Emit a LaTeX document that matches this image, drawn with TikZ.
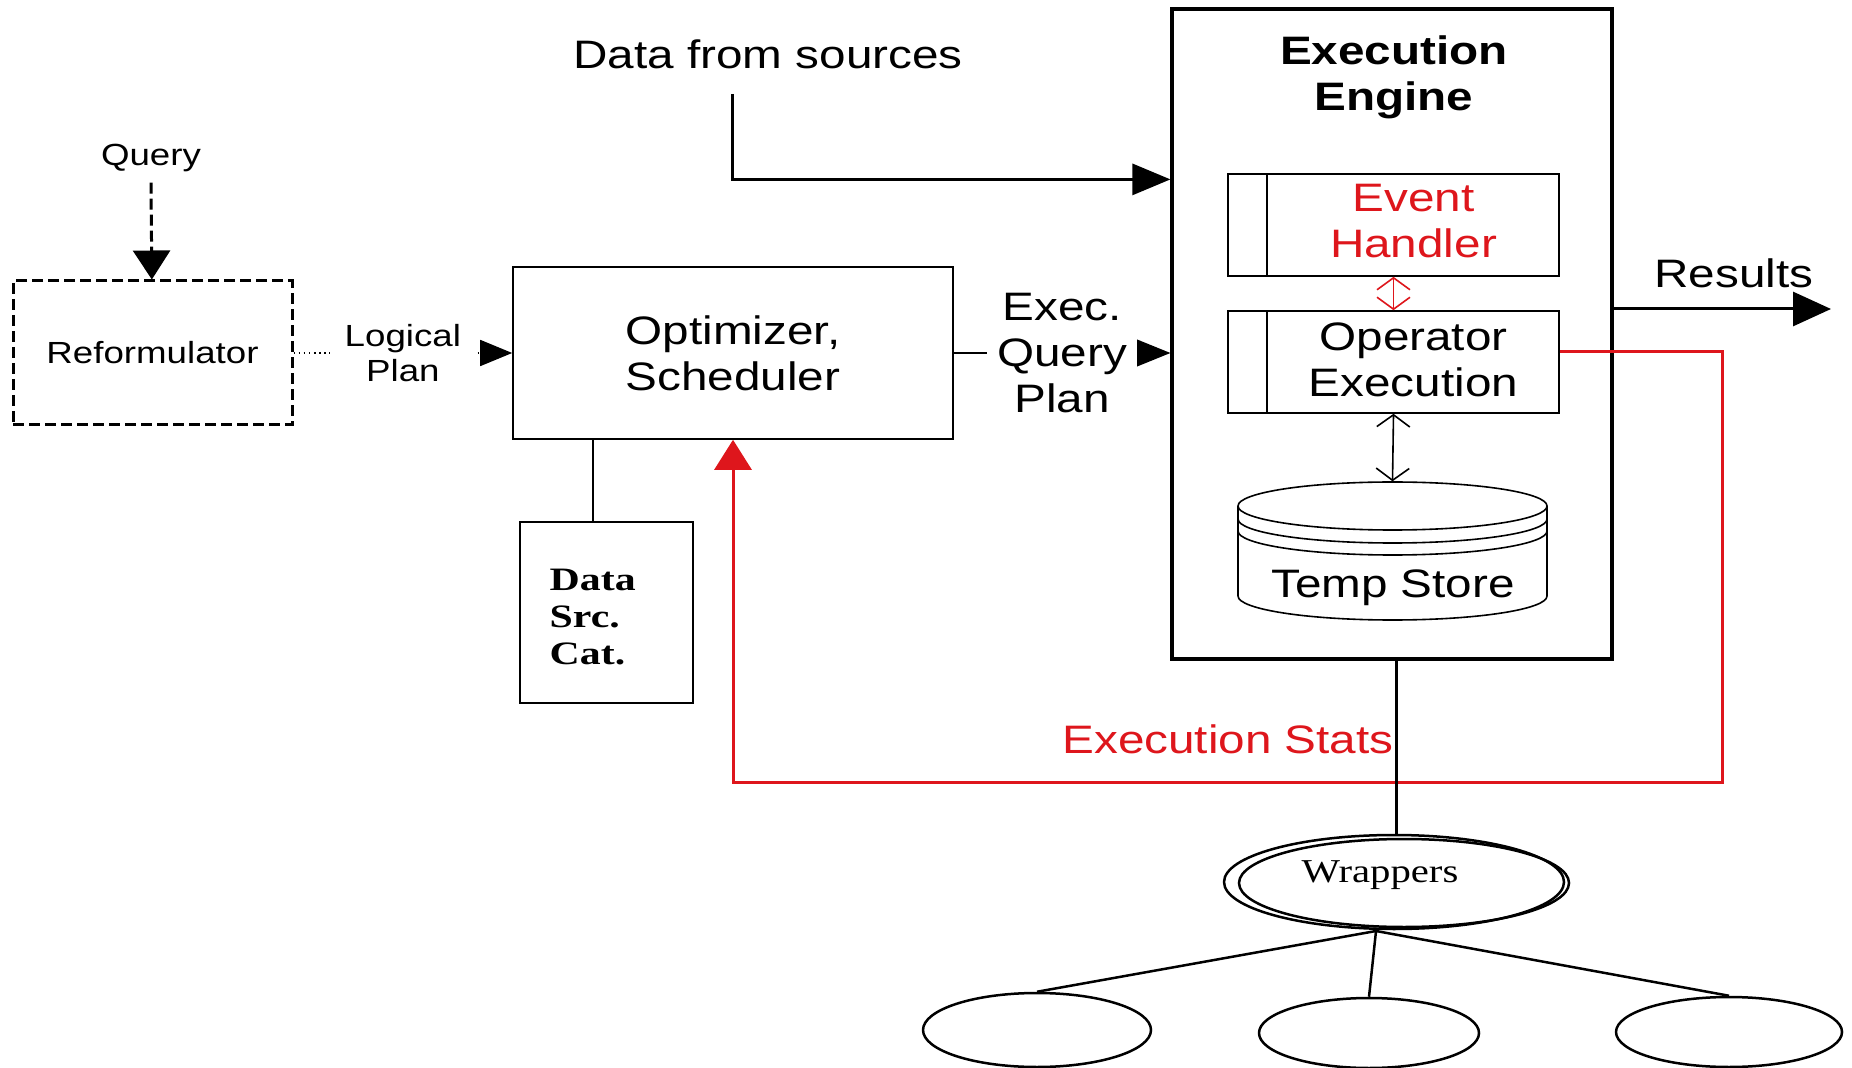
\documentclass[tikz,border=0pt]{standalone}
\usepackage{fontspec}
\setmainfont[FakeStretch=1.2]{Liberation Sans}
\newfontfamily\wserif[FakeStretch=1.22]{Liberation Serif}
\newfontfamily\dscfont[FakeStretch=1.28]{Liberation Serif}
\usetikzlibrary{arrows.meta,shapes.geometric,calc}
\definecolor{myred}{RGB}{222,22,28}
\begin{document}
\begin{tikzpicture}[x=0.1mm,y=-0.1mm,
  bigtxt/.style={font=\fontsize{11.3pt}{13pt}\selectfont, align=center, inner sep=0},
  smalltxt/.style={font=\fontsize{8.7pt}{9.8pt}\selectfont, align=center, inner sep=0},
  thinbox/.style={draw, line width=0.16mm, inner sep=0},
  thickln/.style={line width=0.3mm},
  thinln/.style={line width=0.16mm},
  barbs/.style={{Straight Barb[length=1.2mm,width=3.3mm]}-{Straight Barb[length=1.2mm,width=3.3mm]}},
  leaf/.style={ellipse, draw, line width=0.25mm, inner sep=0}
]
\fill[white] (0,0) rectangle (1852,1068);
\useasboundingbox (0,0) rectangle (1852,1068);

% Query and Reformulator
\node[smalltxt] (query) at (151,158) {Query};
\node[draw, line width=0.3mm, dash pattern=on 1.1mm off 0.5mm, minimum width=27.9mm, minimum height=14.4mm, inner sep=0, smalltxt] (ref) at (152.5,353) {Reformulator};
\draw[thickln, dash pattern=on 1.1mm off 0.5mm, -{Triangle[length=2.9mm,width=3.7mm]}] ([yshift=-1mm]query.south) -- (ref);

% Optimizer
\node[thinbox, minimum width=44mm, minimum height=17.2mm, bigtxt] (opt) at (733,353) {Optimizer,\\Scheduler};
\draw[thinln, densely dotted, -{Triangle[length=3.2mm,width=2.6mm]}] (ref) -- node[smalltxt, fill=white, inner xsep=1.5mm, inner ysep=0.5mm] (lp) {Logical\\Plan} (opt);

% Data source catalog
\node[thinbox, minimum width=17.3mm, minimum height=18.1mm] (dsc) at (606.5,612.5) {};
\node[font=\dscfont\bfseries\fontsize{9.3pt}{10.5pt}\selectfont, align=left, anchor=west, inner sep=0] (dsct) at (549,617) {Data\\Src.\\Cat.};
\draw[thinln] ([xshift=-1.35mm]dsc.north) -- ([xshift=-1.35mm]dsc.north |- opt.south);

% Execution engine
\node[draw, line width=0.32mm, minimum width=44mm, minimum height=65mm, inner sep=0] (exec) at (1392,334) {};
\node[bigtxt, font=\fontsize{11.3pt}{13pt}\selectfont\bfseries] (title) at (1394,77) {Execution\\Engine};

\node[thinbox, minimum width=33.1mm, minimum height=10.2mm] (eh) at (1393.5,225) {};
\draw[thinln] ([xshift=4mm]eh.north west) -- ([xshift=4mm]eh.south west);
\node[bigtxt, text=myred] (eht) at (1413.5,221) {Event\\Handler};

\node[thinbox, minimum width=33.1mm, minimum height=10.2mm] (oe) at (1393.5,362) {};
\draw[thinln] ([xshift=4mm]oe.north west) -- ([xshift=4mm]oe.south west);
\node[bigtxt] (oet) at (1413.5,360) {Operator\\Execution};

% Temp store cylinder
\node[minimum width=30.9mm, minimum height=13.8mm, inner sep=0] (temp) at (1392.5,551) {};
\draw[thinln] (1392.5,506) ellipse [x radius=154.5, y radius=24];
\draw[thinln] (1547,506) -- (1547,596) arc[start angle=0, end angle=180, x radius=154.5, y radius=24] -- (1238,506);
\draw[thinln] (1547,519) arc[start angle=0, end angle=180, x radius=154.5, y radius=24];
\draw[thinln] (1547,531) arc[start angle=0, end angle=180, x radius=154.5, y radius=24];
\node[bigtxt] (tst) at (1393,588) {Temp Store};

\draw[thinln, myred, barbs] (eh.south) -- (oe.north);
\draw[thinln, barbs] (oe.south) -- (temp.north);

% Exec query plan
\draw[thinln, -{Triangle[length=3.5mm,width=2.8mm]}] (opt.east) -- node[bigtxt, fill=white, inner xsep=1mm, inner ysep=0.5mm] (eqp) {Exec.\\Query\\Plan} (opt.east -| exec.west);

% Data from sources
\node[bigtxt] (dfs) at (768,54) {Data from sources};
\coordinate (dfs0) at (732,94);
\draw[thickln, -{Triangle[length=3.8mm,width=3.1mm]}] (dfs0) |- ([yshift=-17.2mm]exec.north west);

% Results
\node[bigtxt] (res) at (1734,273) {Results};
\coordinate (resend) at (1831,309);
\draw[thickln, -{Triangle[length=3.8mm,width=3.4mm]}] (exec.east |- resend) -- (resend);

% Feedback
\coordinate (fb) at (1722,782);
\draw[myred, thickln, -{Triangle[length=3mm,width=3.7mm]}] ([yshift=1mm]oe.east) -| (fb) -| (opt.south);
\node[bigtxt, text=myred] (es) at (1228,739) {Execution Stats};

% Wrappers
\node[leaf, minimum width=34mm, minimum height=9.4mm] (wrap) at (1394,882) {};
\draw[line width=0.25mm] (1404,883) ellipse [x radius=165, y radius=44];
\node[font=\wserif\fontsize{9.5pt}{11pt}\selectfont, inner sep=0] (wrapt) at (1380,875) {Wrappers};
\draw[thickln] ([xshift=0.4mm]exec.south) -- ([xshift=0.4mm]exec.south |- wrap.north);

\node[leaf, minimum width=22.8mm, minimum height=7.4mm] (l1) at (1037,1030) {};
\node[leaf, minimum width=22mm, minimum height=7mm] (l2) at (1369,1033) {};
\node[leaf, minimum width=22.6mm, minimum height=7mm] (l3) at (1729,1032) {};
\coordinate (wb) at (1376,931);
\draw[line width=0.25mm] (wb) -- (l1.north);
\draw[line width=0.25mm] (wb) -- (l2.north);
\draw[line width=0.25mm] (wb) -- (l3.north);
\end{tikzpicture}
\end{document}
